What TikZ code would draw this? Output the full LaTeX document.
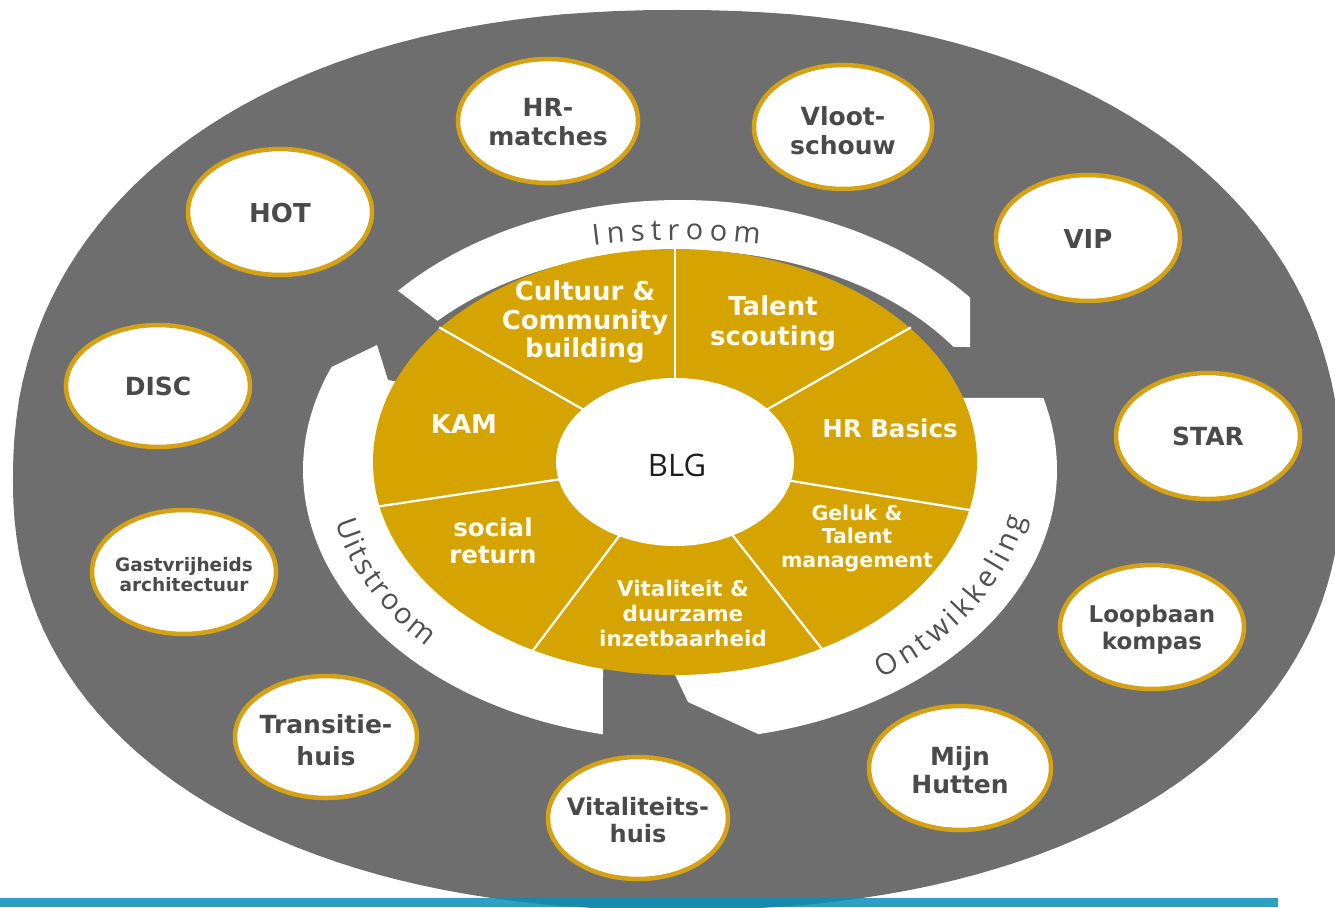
\documentclass[tikz,border=0pt]{standalone}
\usepackage{fontspec}
\setmainfont{DejaVu Sans}
\newfontfamily\thinfont{Open Sans}
\usetikzlibrary{decorations.text}
\definecolor{bggray}{RGB}{110,110,110}
\definecolor{gold}{RGB}{213,164,0}
\definecolor{ovalgold}{RGB}{212,162,20}
\definecolor{ovtext}{RGB}{74,74,74}
\definecolor{inwhite}{RGB}{255,251,242}
\definecolor{arctext}{RGB}{80,80,80}
\definecolor{blgtext}{RGB}{30,30,30}
\definecolor{barblue}{RGB}{9,142,187}
\newcommand\myfs[2]{\fontsize{#1}{#2}\selectfont}
\newcommand\arcfont{\thinfont\fontsize{29}{29}\selectfont}
\tikzset{
  inlbl/.style={text=inwhite, align=center, inner sep=0pt},
  ovalshape/.style={fill=white, draw=ovalgold, line width=4.5pt},
  ovtxt/.style={text=ovtext, align=center, inner sep=0pt, font=\bfseries\myfs{25}{29}},
  bandfill/.style={fill=white},
  segline/.style={draw=white, line width=2.2pt},
}
\begin{document}
\begin{tikzpicture}[x=1pt,y=-1pt]
\useasboundingbox (0,0) rectangle (1335,907);
\begin{scope}
\clip (0,0) rectangle (1335,907);
\fill[bggray]
  plot[domain=0.01:89.99, samples=45, variable=\t]
    ({677+664*pow(abs(cos(\t)),0.909)}, {480-470*pow(abs(sin(\t)),0.909)})
  -- plot[domain=90.01:179.99, samples=45, variable=\t]
    ({677-664*pow(abs(cos(\t)),0.909)}, {480-470*pow(abs(sin(\t)),0.909)})
  -- plot[domain=180.01:269.99, samples=45, variable=\t]
    ({677-664*pow(abs(cos(\t)),0.909)}, {480+430*pow(abs(sin(\t)),0.909)})
  -- plot[domain=270.01:359.99, samples=45, variable=\t]
    ({677+664*pow(abs(cos(\t)),0.909)}, {480+430*pow(abs(sin(\t)),0.909)})
  -- cycle;
\end{scope}

\begin{scope}[shift={(680,470)}, yscale=-1]
 % Instroom band
 \fill[bandfill] (138.4:377 and 270) arc[start angle=138.4, end angle=39.7, x radius=377, y radius=270]
   -- (290,123) -- (34:330 and 220) arc[start angle=34, end angle=137.3, x radius=330, y radius=220] -- cycle;
 % Ontwikkeling band
 \fill[bandfill] (15.5:377 and 270) arc[start angle=15.5, end angle=-78, x radius=377, y radius=270]
   -- (8,-232) -- (-92:280 and 195) arc[start angle=-92, end angle=21.7, x radius=280, y radius=195] -- cycle;
 % Uitstroom band
 \fill[bandfill] (258.2:377 and 270) arc[start angle=258.2, end angle=157.6, x radius=377, y radius=270]
   -- (-303,125) -- (-292,90) -- (155:280 and 195) arc[start angle=155, end angle=256, x radius=280, y radius=195]
   -- (-77,-200) -- cycle;
 % gold wheel
 \fill[gold] (-5,8) ellipse [x radius=302, y radius=213];
 \begin{scope}[shift={(-5,8)}, xscale=1.418]
  \foreach \a in {90,39,-13,-61,-118,-168,141}
    \draw[segline] (\a:83) -- (\a:214);
 \end{scope}
 \fill[white] (-5,8) ellipse [x radius=119, y radius=84];
 % arc texts
 \path[decorate, decoration={text along path, text color=arctext, text align={fit to path},
   text={|\arcfont|Instroom}}]
   (102.5:400 and 230) arc[start angle=102.5, end angle=78.5, x radius=400, y radius=230];
 \path[decorate, decoration={text along path, text color=arctext, text align={fit to path},
   text={|\arcfont|Ontwikkeling}}]
   (-55:352 and 254) arc[start angle=-55, end angle=-11, x radius=352, y radius=254];
 \path[decorate, decoration={text along path, text color=arctext, text align={fit to path},
   text={|\arcfont|Uitstroom}}]
   (192:352 and 254) arc[start angle=192, end angle=224, x radius=352, y radius=254];
\end{scope}

% centre
\node[text=blgtext, font=\thinfont\myfs{31}{31}, inner sep=0pt] (blg) at (677,465) {BLG};

% segment labels
\node[inlbl, font=\bfseries\myfs{26}{28.5}] (cult) at (585,322) {Cultuur \&\\Community\\building};
\node[inlbl, font=\bfseries\myfs{26}{30}] (tals) at (773,323) {Talent\\scouting};
\node[inlbl, font=\bfseries\myfs{26}{30}] (kam) at (464,424) {KAM};
\node[inlbl, font=\bfseries\myfs{24.5}{30}] (hrb) at (890,428) {HR Basics};
\node[inlbl, font=\bfseries\myfs{24.5}{27}] (soc) at (493,541) {social\\return};
\node[inlbl, font=\bfseries\myfs{21.5}{25}] (vit) at (683,613) {Vitaliteit \&\\duurzame\\inzetbaarheid};
\node[inlbl, font=\bfseries\myfs{20.5}{23.5}] (gel) at (857,538) {Geluk \&\\Talent\\management};

% outer ovals
\draw[ovalshape] (548,121) ellipse [x radius=90, y radius=62];
\node[ovtxt] (hrm) at (548,122) {HR-\\matches};
\draw[ovalshape] (843,127) ellipse [x radius=89, y radius=62];
\node[ovtxt] (vloot) at (843,131) {Vloot-\\schouw};
\draw[ovalshape] (280,212) ellipse [x radius=92, y radius=63];
\node[ovtxt, font=\bfseries\myfs{26}{29}] (hot) at (280,213) {HOT};
\draw[ovalshape] (1088,238) ellipse [x radius=92, y radius=63];
\node[ovtxt, font=\bfseries\myfs{26}{29}] (vip) at (1088,239) {VIP};
\draw[ovalshape] (1208,436) ellipse [x radius=92, y radius=63];
\node[ovtxt] (star) at (1208,436) {STAR};
\draw[ovalshape] (158,386) ellipse [x radius=92, y radius=61];
\node[ovtxt] (disc) at (158,386) {DISC};
\draw[ovalshape] (184,572) ellipse [x radius=92, y radius=62];
\node[ovtxt, font=\bfseries\myfs{18.5}{20}] (gast) at (184,575) {Gastvrijheids\\architectuur};
\draw[ovalshape] (326,737) ellipse [x radius=91, y radius=61];
\node[ovtxt, font=\bfseries\myfs{25}{32}] (trans) at (326,740) {Transitie-\\huis};
\draw[ovalshape] (638,818) ellipse [x radius=90, y radius=61];
\node[ovtxt, font=\bfseries\myfs{24}{27}] (vith) at (638,820) {Vitaliteits-\\huis};
\draw[ovalshape] (960,768) ellipse [x radius=91, y radius=62];
\node[ovtxt, font=\bfseries\myfs{25}{28}] (mijn) at (960,770) {Mijn\\Hutten};
\draw[ovalshape] (1152,627) ellipse [x radius=92, y radius=62];
\node[ovtxt, font=\bfseries\myfs{23}{27}] (loop) at (1152,630) {Loopbaan\\kompas};

% bottom bar
\fill[barblue, fill opacity=0.85] (0,898) rectangle (1278,907);
\end{tikzpicture}
\end{document}
